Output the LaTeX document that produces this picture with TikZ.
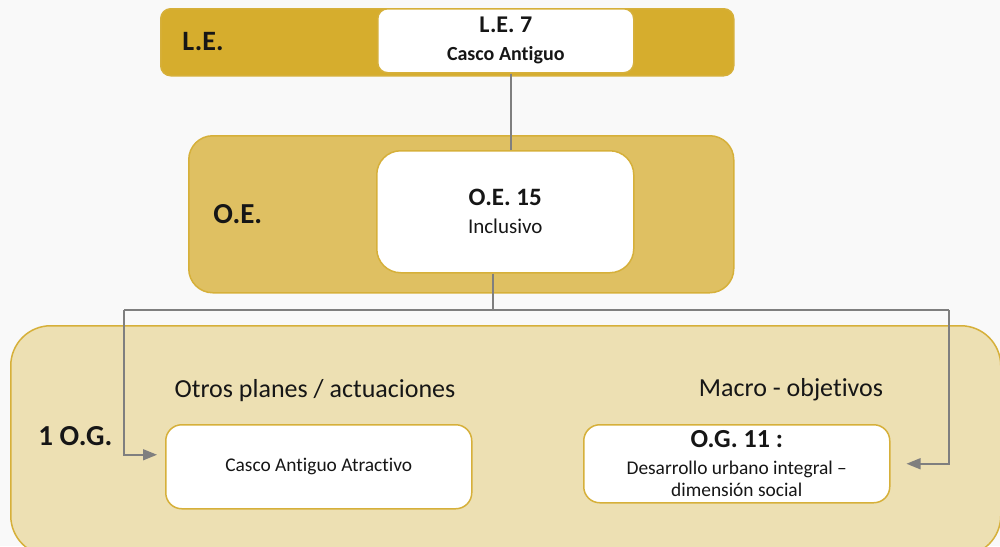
\documentclass[tikz,border=0pt]{standalone}
\usepackage{fontspec}
\setmainfont{Carlito}[Ligatures=NoCommon]
\usetikzlibrary{positioning, arrows.meta}
\definecolor{legold}{RGB}{214,173,45}
\definecolor{oegold}{RGB}{223,192,98}
\definecolor{oggold}{RGB}{237,224,179}
\definecolor{rimgold}{RGB}{214,176,58}
\definecolor{linkgray}{RGB}{127,127,127}
\definecolor{pagebg}{RGB}{249,249,249}
\definecolor{inkdark}{RGB}{22,22,22}

\begin{document}
\begin{tikzpicture}[
   x=0.5pt, y=-0.5pt,
   every node/.style  = {text=inkdark},
      band/.style     = {rectangle, draw=rimgold, line width=0.75pt, anchor=north west, inner sep=0pt},
      whitebox/.style = {rectangle, fill=white, draw=rimgold, line width=0.75pt, align=center, anchor=north west, inner sep=0pt},
      tag/.style      = {anchor=base west, inner sep=0pt, font=\fontsize{14.5}{17}\selectfont\bfseries},
      heading/.style  = {anchor=base, inner sep=0pt, font=\fontsize{13}{15}\selectfont},
      link/.style     = {draw=linkgray, line width=0.75pt},
      myarrow/.style  = {link, -{Triangle[length=7pt, width=5.5pt]}}
]

\clip (0,0) rectangle (1000,546);
\fill[pagebg] (0,0) rectangle (1000,546);

% levels
\node[band, fill=legold, rounded corners=5pt, minimum width=286.5pt, minimum height=33.5pt] (leband) at (160,8) {};
\node[band, fill=oegold, rounded corners=12pt, minimum width=272.5pt, minimum height=78.5pt] (oeband) at (188,135) {};
\node[band, fill=oggold, rounded corners=20pt, minimum width=495pt, minimum height=115pt] (ogband) at (10,325) {};

\node[tag, font=\fontsize{14}{17}\selectfont\bfseries] (letag) at (182,50) {L.E.};
\node[tag] (oetag) at (213,223) {O.E.};
\node[tag] (ogtag) at (38,445) {1 O.G.};

% boxes
\node[whitebox, rounded corners=5pt, minimum width=128pt, minimum height=32pt,
      font=\fontsize{10}{12}\selectfont\bfseries] (le7) at (377,8)
      {{\fontsize{12}{14}\selectfont L.E. 7}\\[2pt]Casco Antiguo};

\node[whitebox, rounded corners=12pt, minimum width=128.5pt, minimum height=61pt,
      font=\fontsize{10.5}{12.6}\selectfont] (oe15) at (376,150)
      {{\fontsize{12.5}{14}\selectfont\bfseries O.E. 15}\\[1.5pt]Inclusivo};

\node[heading] (otros) at (315,397) {Otros planes / actuaciones};
\node[heading] (macro) at (791,396) {Macro - objetivos};

\node[whitebox, rounded corners=8pt, minimum width=153pt, minimum height=42pt,
      font=\fontsize{9.7}{11}\selectfont] (casco) at (165,424) {Casco Antiguo Atractivo};

\node[whitebox, rounded corners=8pt, minimum width=153pt, minimum height=39pt,
      font=\fontsize{9.7}{11}\selectfont] (og11) at (583,424)
      {{\fontsize{13}{13}\selectfont\bfseries O.G. 11 :}\\[2.5pt]Desarrollo urbano integral --\\dimensión social};

% connectors
\coordinate (split) at (493,310);
\coordinate (leftturn) at (124,310);
\coordinate (rightturn) at (949,310);

\draw[link] ([xshift=2.5pt]le7.south) -- ([xshift=2.5pt]le7.south |- oe15.north);
\draw[link] (oe15.south -| split) -- (split);
\draw[link] (leftturn) -- (rightturn);
\draw[myarrow, shorten >=4pt] (leftturn) |- ([yshift=6pt]casco.west);
\draw[myarrow, shorten >=8pt] (rightturn) |- (og11.east);

\end{tikzpicture}
\end{document}
